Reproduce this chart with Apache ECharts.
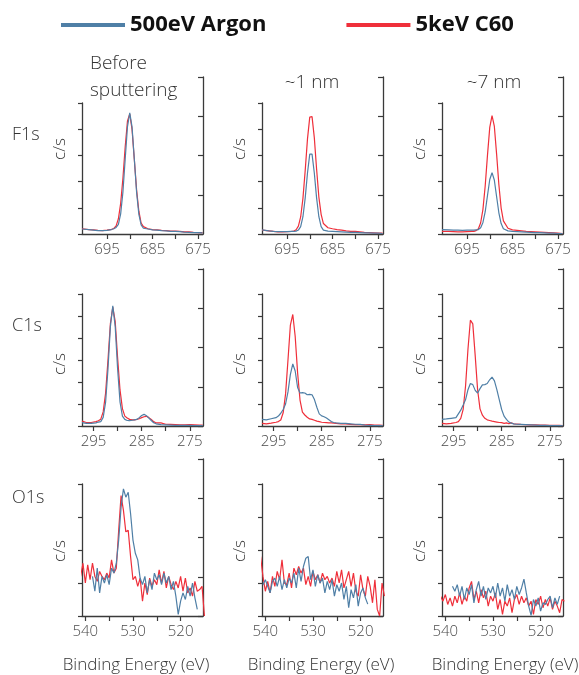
<!DOCTYPE html>
<html>
<head>
<meta charset="utf-8">
<script src="https://cdn.jsdelivr.net/npm/echarts@6/dist/echarts.min.js"></script>
<style>
html,body{margin:0;padding:0;background:#fff;}
#chart{width:579px;height:675px;}
</style>
</head>
<body>
<div id="chart"></div>
<script>
// ---------- data ----------
const SERIES_NAMES = ['500eV Argon', '5keV C60'];
const ROW_NAMES = ['F1s', 'C1s', 'O1s'];
const COL_TITLES = [['Before', 'sputtering'], ['~1 nm'], ['~7 nm']];

const F1S_TICKS = [695, 690, 685, 680, 675];
const F1S_LABELS = [695, 685, 675];
const C1S_TICKS = [295, 290, 285, 280, 275];
const C1S_LABELS = [295, 285, 275];
const O1S_TICKS = [540, 535, 530, 525, 520];
const O1S_LABELS = [540, 530, 520];

const F1S_E = [700.5,699,698,697,696,695,694,693.5,693,692.5,692,691.5,691,690.5,690,689.5,689,688.5,688,687.5,687,686,685,684,683,682,681,680,679,678,677,676,675,674];
const F1S_AR_BEFORE = [0.19,0.17,0.15,0.13,0.13,0.14,0.17,0.2,0.25,0.37,0.77,1.61,2.87,4.10,4.62,4.09,2.86,1.60,0.75,0.35,0.22,0.19,0.16,0.15,0.13,0.12,0.1,0.1,0.09,0.07,0.06,0.05,0.05,0.04];
const F1S_C60_BEFORE = [0.2,0.17,0.16,0.14,0.13,0.15,0.18,0.21,0.31,0.58,1.17,2.14,3.34,4.32,4.58,3.99,2.85,1.69,0.87,0.42,0.28,0.2,0.17,0.16,0.14,0.13,0.11,0.11,0.1,0.08,0.08,0.06,0.05,0.05];
const F1S_AR_1NM = [0.16,0.12,0.1,0.09,0.09,0.09,0.1,0.1,0.11,0.15,0.28,0.66,1.38,2.33,3.05,3.05,2.33,1.38,0.66,0.28,0.15,0.11,0.1,0.09,0.08,0.07,0.06,0.06,0.05,0.04,0.04,0.03,0.03,0.02];
const F1S_C60_1NM = [0.15,0.12,0.1,0.08,0.08,0.09,0.1,0.11,0.16,0.3,0.65,1.36,2.43,3.63,4.46,4.48,3.68,2.48,1.41,0.75,0.4,0.24,0.2,0.17,0.15,0.12,0.1,0.1,0.08,0.06,0.05,0.04,0.03,0.03];
const F1S_AR_7NM = [0.17,0.16,0.15,0.15,0.14,0.15,0.15,0.15,0.16,0.17,0.24,0.44,0.85,1.47,2.08,2.34,2.06,1.43,0.81,0.4,0.2,0.12,0.1,0.09,0.08,0.07,0.06,0.05,0.05,0.04,0.03,0.03,0.02,0.02];
const F1S_C60_7NM = [0.1,0.1,0.09,0.08,0.08,0.09,0.1,0.1,0.13,0.2,0.43,0.94,1.84,3.01,4.07,4.52,4.12,3.06,1.89,0.99,0.5,0.22,0.16,0.14,0.12,0.1,0.09,0.08,0.07,0.06,0.05,0.04,0.03,0.02];

const C1S_E = [297.4,296.5,295.5,294.5,294,293.5,293,292.5,292,291.5,291,290.5,290,289.5,289,288.5,288,287.5,287,286.5,286,285.5,285,284.5,284,283.5,283,282.5,282,281,280,279,278,277,276,275,274,273,272.3];
const C1S_AR_BEFORE = [0.15,0.12,0.12,0.14,0.18,0.2,0.39,1.07,2.59,4.52,5.46,4.52,2.6,1.1,0.45,0.3,0.25,0.24,0.26,0.28,0.3,0.38,0.48,0.53,0.47,0.36,0.25,0.15,0.1,0.06,0.05,0.04,0.03,0.03,0.03,0.03,0.02,0.02,0.02];
const C1S_C60_BEFORE = [0.22,0.16,0.16,0.2,0.24,0.31,0.64,1.49,3.0,4.66,5.4,4.76,3.1,1.64,0.79,0.45,0.36,0.3,0.28,0.28,0.3,0.33,0.38,0.42,0.44,0.38,0.3,0.2,0.14,0.14,0.08,0.07,0.06,0.05,0.05,0.06,0.05,0.04,0.04];
const C1S_AR_1NM = [0.3,0.28,0.33,0.38,0.45,0.58,0.75,1.0,1.55,2.35,2.82,2.5,1.75,1.5,1.52,1.5,1.42,1.44,1.42,1.2,0.85,0.55,0.46,0.42,0.36,0.28,0.2,0.16,0.14,0.12,0.12,0.1,0.08,0.07,0.04,0.03,0.02,0.02,0.02];
const C1S_C60_1NM = [0.12,0.1,0.13,0.17,0.2,0.27,0.6,1.46,3.0,4.59,5.07,4.07,2.42,1.18,0.63,0.5,0.4,0.32,0.3,0.26,0.22,0.2,0.17,0.16,0.15,0.14,0.14,0.13,0.12,0.1,0.09,0.07,0.06,0.06,0.05,0.06,0.04,0.04,0.03];
const C1S_AR_7NM = [0.3,0.32,0.35,0.38,0.55,0.72,0.95,1.2,1.65,1.93,1.88,1.62,1.5,1.7,1.87,1.88,1.93,2.1,2.22,2.05,1.65,1.2,0.75,0.45,0.3,0.18,0.13,0.1,0.08,0.07,0.06,0.05,0.04,0.03,0.03,0.02,0.02,0.02,0.02];
const C1S_C60_7NM = [0.12,0.1,0.12,0.16,0.2,0.35,0.76,1.83,3.5,4.81,4.64,3.2,1.65,0.78,0.49,0.35,0.28,0.25,0.22,0.2,0.18,0.16,0.15,0.12,0.14,0.1,0.14,0.1,0.09,0.07,0.06,0.05,0.05,0.04,0.04,0.03,0.03,0.03,0.02];

const O1S_E = [541,540.5,540,539.5,539,538.5,538,537.5,537,536.5,536,535.5,535,534.5,534,533.5,533,532.5,532,531.5,531,530.5,530,529.5,529,528.5,528,527.5,527,526.5,526,525.5,525,524.5,524,523.5,523,522.5,522,521.5,521,520.5,520,519.5,519,518.5,518,517.5,517,516.5,516,515.5,515];
const O1S_AR_BEFORE = [null,null,null,null,null,1.2,0.75,1.45,0.7,1.2,1.0,1.25,0.95,1.45,1.3,1.6,2.3,3.3,3.85,3.6,3.75,3.1,2.3,1.9,1.7,1.15,0.95,1.2,0.7,1.1,0.8,1.3,1.1,1.25,0.95,1.3,1.0,1.2,0.8,1.05,0.6,0.05,0.45,0.7,0.5,0.9,0.6,1.0,0.55,0.2,null,null,null];
const O1S_C60_BEFORE = [1.2,1.6,1.0,1.55,1.1,1.6,1.2,1.05,1.35,1.2,1.1,1.3,1.15,1.7,1.3,1.45,2.6,3.65,3.2,2.55,2.6,1.8,1.1,1.2,0.9,1.15,0.45,1.0,0.65,1.15,0.9,1.1,0.95,1.4,1.0,1.35,0.85,1.2,0.95,0.8,1.05,0.85,1.2,0.75,1.15,0.7,0.85,0.6,1.05,0.75,0.8,0.9,0.0];
const O1S_AR_1NM = [null,0.95,1.1,0.9,0.7,1.05,1.15,0.9,1.2,0.8,1.1,0.85,1.15,1.0,1.3,0.85,1.45,1.05,1.5,1.75,1.8,1.1,1.4,0.9,1.25,1.0,1.15,0.7,1.05,0.8,1.1,0.6,0.95,0.75,1.0,0.5,0.9,0.25,0.8,0.55,0.95,0.3,0.7,0.85,0.55,0.36,null,null,null,null,null,null,null];
const O1S_C60_1NM = [1.8,1.2,0.75,1.05,0.7,1.2,0.9,1.35,1.1,1.7,1.0,0.95,1.3,0.85,1.45,1.25,1.5,1.3,1.45,0.95,1.2,0.9,1.35,1.1,1.25,1.0,1.3,1.1,1.2,1.0,1.15,0.9,1.35,1.0,1.4,0.85,1.1,1.35,0.9,1.3,0.75,0.6,1.25,0.8,0.6,1.2,0.9,0.4,1.1,0.2,0.0,1.0,0.6];
const O1S_AR_7NM = [null,null,null,null,null,0.9,0.75,0.95,0.6,0.9,0.5,0.85,0.65,0.95,0.4,0.8,1.05,0.6,0.9,0.5,0.85,0.7,0.9,0.55,1.0,0.6,0.85,0.45,0.95,0.6,0.8,0.5,0.9,0.65,0.85,1.12,0.7,0.3,0.02,0.5,0.3,0.55,0.15,0.4,0.35,0.5,0.6,0.25,0.55,0.35,0.6,null,null];
const O1S_C60_7NM = [0.6,0.45,0.65,0.35,0.55,0.3,0.6,0.4,0.7,0.35,0.6,0.45,0.85,1.05,0.5,0.75,0.4,0.8,0.55,0.75,0.3,0.6,0.45,0.7,0.2,0.5,0.05,0.45,0.3,0.55,0.1,0.5,0.65,0.35,0.6,0.4,0.55,0.3,0.45,0.05,0.5,0.35,0.6,0.25,0.5,0.3,0.55,0.2,0.45,0.3,0.1,0.5,0.45];

// ---------- layout / style ----------
const BLUE = '#4f7fa6';
const RED = '#ef2f3a';
const AXIS_COLOR = '#3a3a3a';
const FONT = "'Open Sans', 'Noto Sans', sans-serif";
const COL_LEFT = [82, 262, 442];
const PLOT_W = 121;
const ROW_TOP = [103, 294, 484];
const ROW_BOTTOM = [234, 426, 616];
const RIGHT_TOP = [77, 269, 459];

const rows = [
  {E: F1S_E, xMin: 673.9, xMax: 700.5, yMax: 5, ticks: F1S_TICKS, labels: F1S_LABELS,
   ar: [F1S_AR_BEFORE, F1S_AR_1NM, F1S_AR_7NM], c60: [F1S_C60_BEFORE, F1S_C60_1NM, F1S_C60_7NM]},
  {E: C1S_E, xMin: 272.25, xMax: 297.4, yMax: 6, ticks: C1S_TICKS, labels: C1S_LABELS,
   ar: [C1S_AR_BEFORE, C1S_AR_1NM, C1S_AR_7NM], c60: [C1S_C60_BEFORE, C1S_C60_1NM, C1S_C60_7NM]},
  {E: O1S_E, xMin: 515.3, xMax: 540.7, yMax: 4, ticks: O1S_TICKS, labels: O1S_LABELS,
   ar: [O1S_AR_BEFORE, O1S_AR_1NM, O1S_AR_7NM], c60: [O1S_C60_BEFORE, O1S_C60_1NM, O1S_C60_7NM]}
];

const grid = [], xAxis = [], yAxis = [], series = [], graphic = [];
const axisLine = {show: true, onZero: false, lineStyle: {color: AXIS_COLOR, width: 1.3}};
const tickLine = {color: AXIS_COLOR, width: 1.2};

rows.forEach((row, r) => {
  for (let c = 0; c < 3; c++) {
    const g = grid.length;
    grid.push({left: COL_LEFT[c], top: ROW_TOP[r], width: PLOT_W, height: ROW_BOTTOM[r] - ROW_TOP[r]});
    xAxis.push({gridIndex: g, type: 'value', inverse: true, min: row.xMin, max: row.xMax,
      axisLine: axisLine,
      axisTick: {show: true, inside: false, length: 5, customValues: row.ticks, lineStyle: tickLine},
      axisLabel: {show: true, customValues: row.labels, margin: 8, color: '#4a4a4a', fontSize: 15, fontFamily: FONT, fontWeight: 300},
      splitLine: {show: false}});
    yAxis.push({gridIndex: g, type: 'value', min: 0, max: row.yMax, interval: 1,
      axisLine: axisLine,
      axisTick: {show: true, inside: false, length: 4, lineStyle: tickLine},
      axisLabel: {show: false}, splitLine: {show: false}});
    const pairs = (vals) => row.E.map((e, i) => [e, vals[i]]);
    series.push({name: SERIES_NAMES[0], type: 'line', xAxisIndex: g, yAxisIndex: g,
      data: pairs(row.ar[c]), showSymbol: false, symbol: 'none', z: 3,
      lineStyle: {color: BLUE, width: 1.2}, itemStyle: {color: BLUE}, color: BLUE});
    series.push({name: SERIES_NAMES[1], type: 'line', xAxisIndex: g, yAxisIndex: g,
      data: pairs(row.c60[c]), showSymbol: false, symbol: 'none', z: 2,
      lineStyle: {color: RED, width: 1.2}, itemStyle: {color: RED}, color: RED});
    const g2 = grid.length;
    grid.push({left: COL_LEFT[c], top: RIGHT_TOP[r], width: PLOT_W, height: ROW_BOTTOM[r] - RIGHT_TOP[r]});
    xAxis.push({gridIndex: g2, type: 'value', min: 0, max: 1, show: false});
    yAxis.push({gridIndex: g2, type: 'value', position: 'right', min: 0, max: 4, interval: 1,
      axisLine: axisLine,
      axisTick: {show: true, inside: true, length: 5, lineStyle: tickLine},
      axisLabel: {show: false}, splitLine: {show: false}});
  }
});

const lightText = (x, y, text, size, align, extra) => Object.assign({
  type: 'text', x: x, y: y, silent: true,
  style: {text: text, fill: '#333', font: '300 ' + size + 'px ' + FONT, textAlign: align || 'left', textVerticalAlign: 'middle'}
}, extra || {});

const ROW_LABEL_Y = [135, 326, 498];
const CS_Y = [149, 364, 551];
ROW_NAMES.forEach((n, r) => {
  graphic.push(lightText(12, ROW_LABEL_Y[r], n, 18, 'left'));
  for (let c = 0; c < 3; c++) {
    graphic.push(lightText(60 + 180 * c, CS_Y[r], 'c/s', 17, 'center', {rotation: Math.PI / 2}));
  }
});
graphic.push(lightText(90, 64, COL_TITLES[0][0], 19, 'left'));
graphic.push(lightText(90, 91, COL_TITLES[0][1], 19, 'left'));
graphic.push(lightText(312, 83, COL_TITLES[1][0], 19, 'center'));
graphic.push(lightText(494, 83, COL_TITLES[2][0], 19, 'center'));
const XNAME_X = [136, 321, 505];
XNAME_X.forEach(x => graphic.push(lightText(x, 665, 'Binding Energy (eV)', 17, 'center')));

const chart = echarts.init(document.getElementById('chart'), null, {renderer: 'canvas'});
chart.setOption({
  animation: false,
  backgroundColor: '#fff',
  legend: {
    data: SERIES_NAMES, left: 56, top: 9, icon: 'rect', itemWidth: 64, itemHeight: 4, itemGap: 80,
    textStyle: {fontSize: 22, fontWeight: 'bold', color: '#111', fontFamily: FONT},
    selectedMode: false
  },
  grid: grid, xAxis: xAxis, yAxis: yAxis, series: series, graphic: graphic
});
</script>
</body>
</html>
